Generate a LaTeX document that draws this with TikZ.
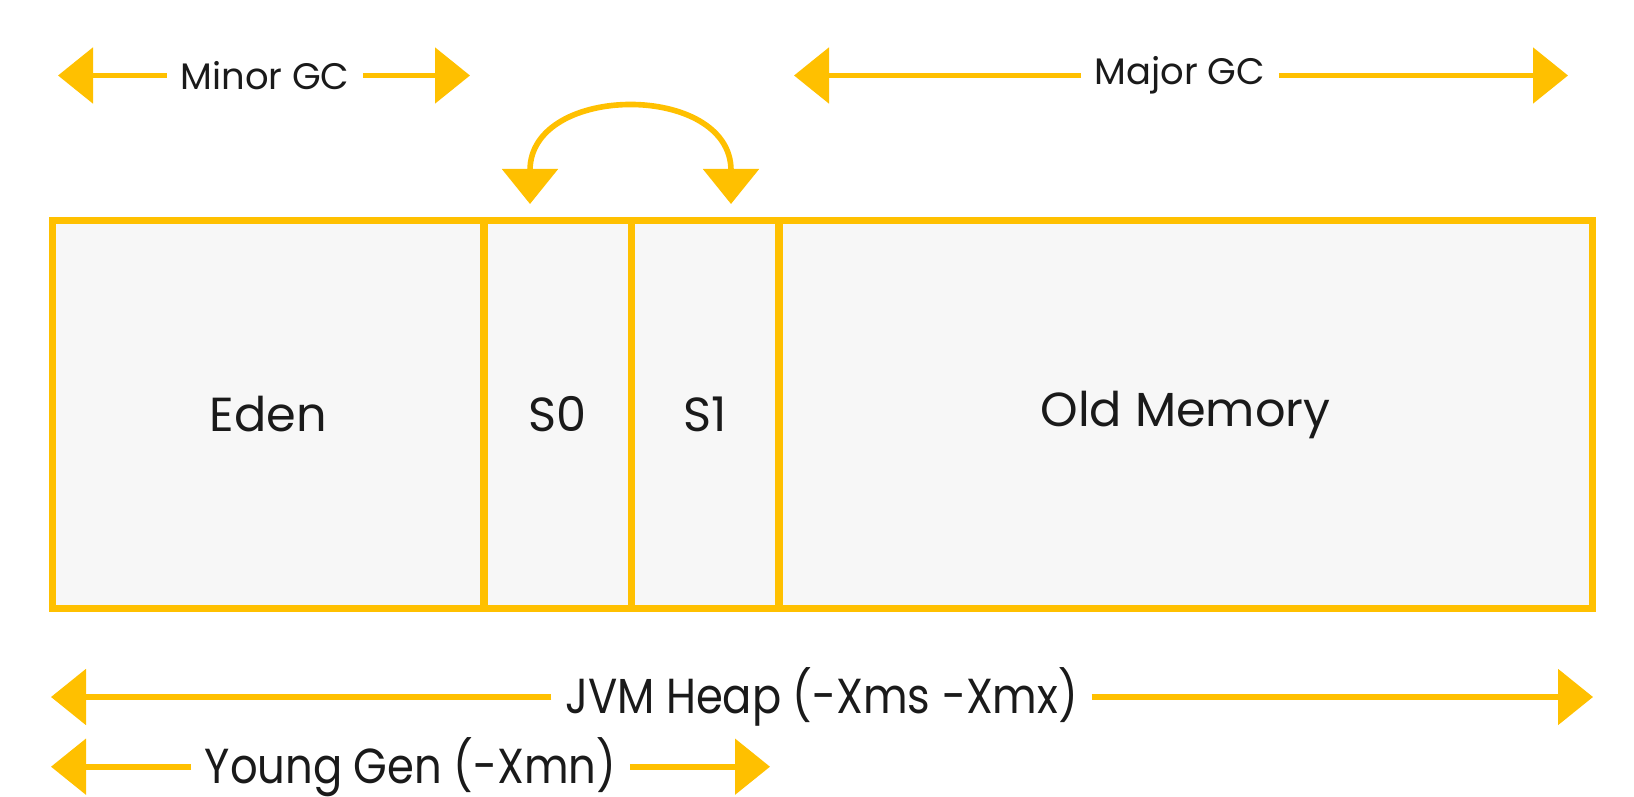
\documentclass[tikz,border=0pt]{standalone}
\usepackage{fontspec}
\setmainfont{Poppins}
\newfontfamily\spanfont[FakeStretch=0.88]{Poppins}
\usepackage{xcolor}
\usetikzlibrary{arrows.meta,positioning}
\definecolor{gcyellow}{HTML}{FFC000}
\definecolor{cellgray}{HTML}{F7F7F7}
\definecolor{labelink}{HTML}{1A1A1A}

\begin{document}
\begin{tikzpicture}[
    >={Triangle[length=0.35cm, width=0.55cm]},
    cell/.style={draw=gcyellow, fill=cellgray, line width=2pt, outer sep=0pt, minimum height=3.88cm, text=labelink, font=\fontsize{13.6}{16}\selectfont},
    span/.style={gcyellow, line width=1.6pt, ->},
    spanlabel/.style={text=labelink, inner xsep=0.13cm, inner ysep=0pt},
]
    \useasboundingbox (0,0) rectangle (16.34,7.96);

    % Heap regions
    \node[cell, minimum width=4.315cm] (eden) at (2.6825,3.815) {Eden};
    \node[cell, minimum width=1.475cm, right=0pt of eden] (s0) {S0};
    \node[cell, minimum width=1.475cm, right=0pt of s0] (s1) {S1};
    \node[cell, minimum width=8.13cm, right=0pt of s1] (old) {Old Memory};

    % Minor GC
    \node[spanlabel, font=\fontsize{10.5}{13}\selectfont] (minor) at (2.65,7.205) {Minor GC};
    \coordinate (minorL) at (0.58,7.205);
    \coordinate (minorR) at (4.70,7.205);
    \draw[span] (minor) -- (minorL);
    \draw[span] (minor) -- (minorR);

    % Major GC
    \node[spanlabel, font=\fontsize{10.5}{13}\selectfont] (major) at (11.80,7.205) {Major GC};
    \coordinate (majorL) at (7.94,7.205);
    \coordinate (majorR) at (15.68,7.205);
    \draw[span] (major) -- (majorL);
    \draw[span] (major) -- (majorR);

    % survivor swap
    \coordinate (s0tip) at (5.30,5.92);
    \coordinate (s1tip) at (7.31,5.92);
    \draw[span, <->] (s0tip) to[out=90, in=90, looseness=1.55] (s1tip);

    % JVM Heap
    \node[spanlabel, font=\spanfont\fontsize{14}{17}\selectfont] (heap) at (8.215,0.99) {JVM Heap (-Xms -Xmx)};
    \coordinate (heapL) at (0.51,0.99);
    \coordinate (heapR) at (15.93,0.99);
    \draw[span] (heap) -- (heapL);
    \draw[span] (heap) -- (heapR);

    % Young Gen
    \node[spanlabel, font=\spanfont\fontsize{14}{17}\selectfont] (young) at (4.105,0.293) {Young Gen (-Xmn)};
    \coordinate (youngL) at (0.51,0.293);
    \coordinate (youngR) at (7.70,0.293);
    \draw[span] (young) -- (youngL);
    \draw[span] (young) -- (youngR);
\end{tikzpicture}
\end{document}
